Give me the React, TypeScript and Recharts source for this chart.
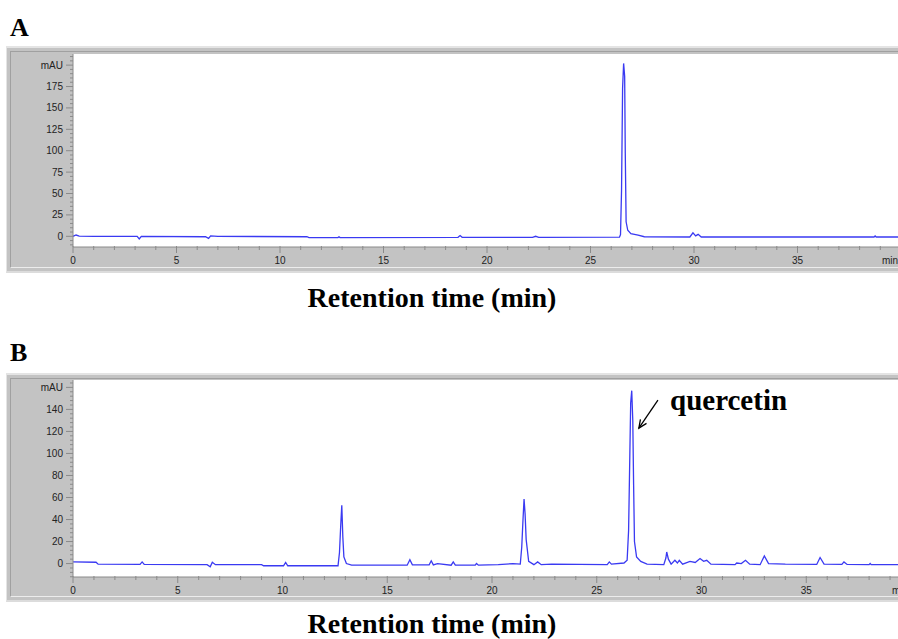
import React from 'react';
import { LineChart, Line, XAxis, YAxis, CartesianGrid, ReferenceLine } from 'recharts';

// Chromatogram A: [retention time (min), absorbance (mAU)]
const traceA: [number, number][] = [
  [0, 0], [0.15, 1.5], [0.3, 0.3], [1, 0], [3.1, 0], [3.2, -3], [3.3, 0],
  [6.4, -0.5], [6.55, -2.5], [6.65, 0.5], [7, 0], [11.3, -0.5], [11.4, -1.5],
  [12.8, -1.5], [12.85, -0.5], [12.9, -1.5], [18.6, -1.2], [18.7, 0.8], [18.8, -1.2],
  [22.2, -1.2], [22.35, 0], [22.5, -1.2], [26.4, -1], [26.45, 2], [26.5, 54],
  [26.55, 173], [26.6, 202], [26.65, 187], [26.68, 97], [26.72, 17], [26.8, 7],
  [26.95, 3], [27.3, 1.5], [27.6, -0.5], [29.8, -0.8], [29.95, 4], [30.08, 0.5],
  [30.2, 2.3], [30.35, -0.8], [38.7, -0.8], [38.75, 0.5], [38.8, -0.8], [40, -0.8],
];

// Chromatogram B
const traceB: [number, number][] = [
  [0, 1.5], [1.1, 1.2], [1.2, -0.5], [3.2, -0.8], [3.3, 1.5], [3.4, -0.8],
  [6.4, -1], [6.55, -3], [6.65, 1.2], [6.8, -1], [9.0, -1], [9.1, -2],
  [10.05, -2], [10.15, 1], [10.25, -2], [12.65, -2], [12.72, 10], [12.78, 35],
  [12.83, 53], [12.88, 24], [12.93, 6], [13.05, 0], [13.3, -1.5], [15.95, -1.5],
  [16.08, 3.5], [16.2, -1.2], [17.0, -1.2], [17.1, 2.5], [17.2, -1.2], [17.4, 0],
  [18.05, -1.5], [18.15, 1.5], [18.25, -1.5], [19.2, -1.5], [19.26, 0], [19.35, -1.5],
  [20.3, -1], [21.0, 0], [21.35, -0.5], [21.42, 15], [21.48, 40], [21.53, 58.5],
  [21.58, 45], [21.63, 22], [21.75, 2], [22.0, -1], [22.18, 1.5], [22.35, -1],
  [22.85, -0.5], [25.5, -1], [25.6, 1.5], [25.7, -0.5], [26.3, 0.5], [26.45, 3],
  [26.52, 30], [26.58, 100], [26.62, 146], [26.67, 157], [26.72, 130], [26.76, 71],
  [26.8, 20], [26.9, 6], [27.1, 2], [27.4, -0.5], [28.2, -1], [28.3, 5],
  [28.34, 10.5], [28.42, 4], [28.55, -0.5], [28.73, 3], [28.85, 0.5], [28.94, 3],
  [29.1, -0.5], [29.45, 2], [29.7, 1], [29.93, 4.5], [30.1, 2], [30.25, 3],
  [30.45, -0.5], [31.6, -1], [31.68, 0.5], [31.9, 0], [32.1, 3], [32.3, -0.5],
  [32.8, -1], [33.0, 7], [33.2, 0], [34.0, -0.5], [35.5, -0.8], [35.66, 5.5],
  [35.85, -0.5], [36.7, -0.8], [36.8, 1.5], [36.95, -0.8], [38.0, -1], [38.05, 0],
  [38.1, -1], [40, -1],
];

const xTicks = [0, 1, 2, 3, 4, 5, 6, 7, 8, 9, 10, 11, 12, 13, 14, 15, 16, 17, 18, 19, 20,
  21, 22, 23, 24, 25, 26, 27, 28, 29, 30, 31, 32, 33, 34, 35, 36, 37, 38, 39, 40];
const yTicksA = [-10, -5, 0, 5, 10, 15, 20, 25, 30, 35, 40, 45, 50, 55, 60, 65, 70, 75, 80, 85,
  90, 95, 100, 105, 110, 115, 120, 125, 130, 135, 140, 145, 150, 155, 160, 165, 170, 175, 180,
  185, 190, 195, 200, 205, 210];
const yTicksB = [-12, -8, -4, 0, 4, 8, 12, 16, 20, 24, 28, 32, 36, 40, 44, 48, 52, 56, 60, 64,
  68, 72, 76, 80, 84, 88, 92, 96, 100, 104, 108, 112, 116, 120, 124, 128, 132, 136, 140, 144,
  148, 152, 156, 160, 164];

const dataA = traceA.map(([t, v]) => ({ t, v }));
const dataB = traceB.map(([t, v]) => ({ t, v }));

const TICK_FONT = "'Liberation Sans', Arial, sans-serif";
const SERIF = "'Liberation Serif', 'Times New Roman', serif";
const AXIS_GRAY = '#8a8a8a';
const TRACE = '#3a3af2';

const XTick = (props: any) => {
  const { x, y, payload } = props;
  const v = payload.value;
  const major = v % 5 === 0;
  const isEnd = v === 40;
  return (
    <g>
      <line x1={x} y1={y - 1} x2={x} y2={y + (major ? 6 : 3)} stroke={AXIS_GRAY} strokeWidth={1} />
      {major && (
        <text x={isEnd ? x - 19 : x} y={y + 17} textAnchor={isEnd ? 'start' : 'middle'}
          fontSize={10} fill="#222" fontFamily={TICK_FONT}>{isEnd ? 'min' : v}</text>
      )}
    </g>
  );
};

const makeYTick = (step: number, unitAt: number) => (props: any) => {
  const { x, y, payload } = props;
  const v = payload.value;
  const major = v % step === 0;
  return (
    <g>
      <line x1={x} y1={y} x2={x - (major ? 7 : 3)} y2={y} stroke={AXIS_GRAY} strokeWidth={1} />
      {major && v >= 0 && (
        <text x={x - 10} y={y + 3.5} textAnchor="end" fontSize={10} fill="#222" fontFamily={TICK_FONT}>
          {v === unitAt ? 'mAU' : v}
        </text>
      )}
    </g>
  );
};

const YTickA = makeYTick(25, 200);
const YTickB = makeYTick(20, 160);

const Arrow = (p: any) => {
  const { x1, y1, x2, y2 } = p;
  const ang = Math.atan2(y2 - y1, x2 - x1);
  const L = 9;
  const a = 0.42;
  const ax = x2 - L * Math.cos(ang - a);
  const ay = y2 - L * Math.sin(ang - a);
  const bx = x2 - L * Math.cos(ang + a);
  const by = y2 - L * Math.sin(ang + a);
  return (
    <g>
      <line x1={x1} y1={y1} x2={x2} y2={y2} stroke="#000" strokeWidth={1.3} />
      <polyline points={`${ax},${ay} ${x2},${y2} ${bx},${by}`} fill="none" stroke="#000" strokeWidth={1.3} />
    </g>
  );
};

const Frame = ({ top, height }: { top: number; height: number }) => (
  <div style={{ position: 'absolute', left: 6, top, width: 910, height, background: '#c3c3c3',
    borderTop: '2px solid #e4e4e4', borderLeft: '1px solid #e4e4e4', borderBottom: '2px solid #dcdcdc', boxSizing: 'border-box' }}>
    <div style={{ position: 'absolute', left: 3, top: 3, right: 0, bottom: 3,
      borderTop: '1px solid #a0a0a0', borderLeft: '1px solid #a0a0a0', borderBottom: '1px solid #ececec' }} />
  </div>
);

const textStyle = (left: number, top: number, size: number): React.CSSProperties => ({
  position: 'absolute', left, top, fontFamily: SERIF, fontWeight: 'bold', fontSize: size,
  lineHeight: 1, whiteSpace: 'nowrap', color: '#000',
});

export default function App() {
  return (
    <div style={{ position: 'fixed', left: 0, top: 0, width: 898, height: 639, overflow: 'hidden', background: '#fff' }}>
      <div style={textStyle(10, 15, 26)}>A</div>
      <Frame top={46} height={227} />
      <div style={{ position: 'absolute', left: 0, top: 0 }}>
        <LineChart width={1000} height={280} data={dataA} margin={{ top: 54, right: 99, bottom: 13, left: 0 }}>
          <CartesianGrid horizontal={false} vertical={false} fill="#ffffff" stroke="none" />
          <XAxis dataKey="t" type="number" domain={[0, 40]} ticks={xTicks} interval={0} allowDataOverflow
            height={20} tickSize={0} tickMargin={0} tickLine={false} axisLine={{ stroke: AXIS_GRAY }} tick={<XTick />} />
          <YAxis type="number" domain={[-12.5, 213]} ticks={yTicksA} interval={0} allowDataOverflow
            width={73} tickSize={0} tickMargin={0} tickLine={false} axisLine={{ stroke: AXIS_GRAY }} tick={<YTickA />} />
          <Line type="linear" dataKey="v" stroke={TRACE} strokeWidth={1.3} dot={false} isAnimationActive={false} />
        </LineChart>
      </div>
      <div style={{ ...textStyle(0, 284, 28), width: 864, textAlign: 'center' }}>Retention time (min)</div>

      <div style={textStyle(10, 340, 26)}>B</div>
      <Frame top={373} height={229} />
      <div style={{ position: 'absolute', left: 0, top: 300 }}>
        <LineChart width={1000} height={300} data={dataB} margin={{ top: 80, right: 89, bottom: 3, left: 0 }}>
          <CartesianGrid horizontal={false} vertical={false} fill="#ffffff" stroke="none" />
          <XAxis dataKey="t" type="number" domain={[0, 40]} ticks={xTicks} interval={0} allowDataOverflow
            height={20} tickSize={0} tickMargin={0} tickLine={false} axisLine={{ stroke: AXIS_GRAY }} tick={<XTick />} />
          <YAxis type="number" domain={[-12.2, 166.7]} ticks={yTicksB} interval={0} allowDataOverflow
            width={73} tickSize={0} tickMargin={0} tickLine={false} axisLine={{ stroke: AXIS_GRAY }} tick={<YTickB />} />
          <Line type="linear" dataKey="v" stroke={TRACE} strokeWidth={1.3} dot={false} isAnimationActive={false} />
          <ReferenceLine segment={[{ x: 27.92, y: 148.5 }, { x: 27.01, y: 123 }]} shape={<Arrow />} />
        </LineChart>
      </div>
      <div style={textStyle(670, 386, 29)}>quercetin</div>
      <div style={{ ...textStyle(0, 610, 28), width: 864, textAlign: 'center' }}>Retention time (min)</div>
    </div>
  );
}
